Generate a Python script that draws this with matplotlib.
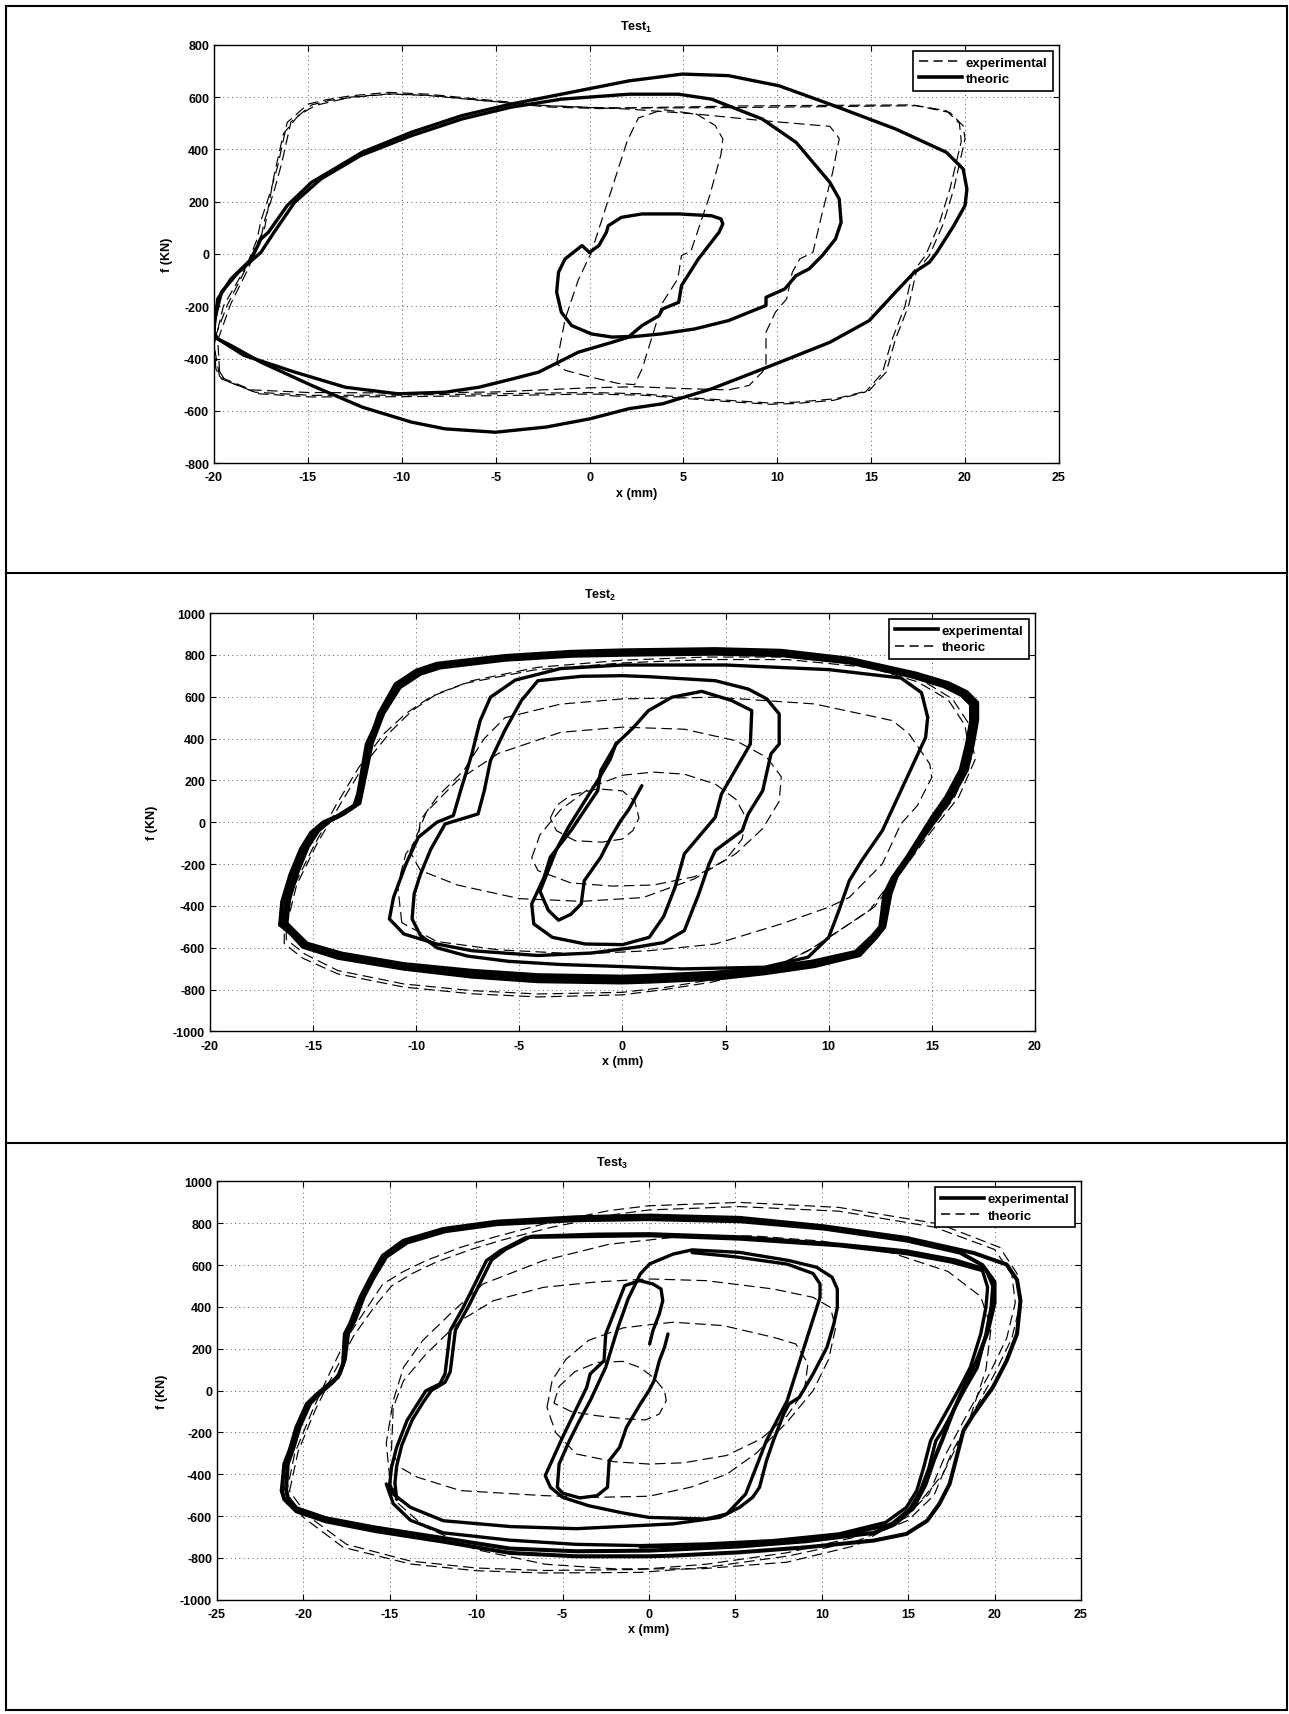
import numpy as np
import matplotlib
matplotlib.use('Agg')
import matplotlib.pyplot as plt
from matplotlib.lines import Line2D
from matplotlib.patches import Rectangle

plt.rcParams['font.family'] = ['Liberation Sans', 'DejaVu Sans']
plt.rcParams['font.weight'] = 'bold'
plt.rcParams['axes.unicode_minus'] = False
plt.rcParams['mathtext.fontset'] = 'custom'
plt.rcParams['mathtext.rm'] = 'Liberation Sans:bold'
plt.rcParams['mathtext.it'] = 'Liberation Sans:bold'
plt.rcParams['mathtext.bf'] = 'Liberation Sans:bold'

# ---------------- Test 1 : (x mm, f kN) ----------------
t1_exp_outer = [(-19.9, -440), (-20.0, -330), (-19.3, -197), (-18.4, -70), (-17.7, 57), (-17.5, 127),
                (-17.0, 236), (-16.6, 338), (-16.1, 503), (-15.0, 573), (-14.0, 590), (-12.7, 605),
                (-10.7, 618), (-8.6, 611), (-5.9, 592), (-4.1, 580), (-2.4, 567), (0.3, 560), (2.8, 558),
                (8.0, 560), (12.0, 563), (17.4, 567), (19.2, 541), (19.9, 490), (20.0, 440), (19.4, 248),
                (18.8, 108), (18.1, -6), (17.4, -70), (17.0, -197), (16.3, -325), (15.8, -452),
                (14.9, -522), (13.1, -554), (11.0, -567), (9.6, -570), (7.4, -560), (4.9, -548),
                (2.8, -535), (0.0, -530), (-5.0, -535), (-10.0, -540), (-14.8, -541), (-17.8, -529),
                (-19.6, -478), (-19.9, -440)]
t1_exp_outer_b = [(-19.7, -450), (-19.8, -330), (-19.1, -190), (-18.2, -60), (-17.5, 60), (-17.3, 130),
                  (-16.8, 240), (-16.4, 345), (-15.9, 505), (-14.8, 570), (-13.8, 588), (-12.5, 600),
                  (-10.5, 612), (-8.4, 606), (-5.7, 587), (-3.9, 574), (-2.2, 562), (0.5, 556), (3.0, 560),
                  (8.0, 566), (12.0, 568), (17.2, 570), (19.0, 548), (19.7, 500), (19.8, 430), (19.2, 250),
                  (18.6, 110), (17.9, -5), (17.2, -72), (16.8, -200), (16.1, -330), (15.6, -455),
                  (14.7, -528), (13.0, -560), (11.0, -572), (9.6, -575), (7.4, -565), (4.9, -552),
                  (2.8, -540), (0.0, -536), (-5.0, -542), (-10.0, -546), (-14.8, -547), (-17.6, -535),
                  (-19.4, -484), (-19.7, -450)]
t1_exp_mid = [(-19.7, -470), (-20.0, -350), (-19.5, -200), (-18.3, -50), (-17.3, 100), (-16.8, 300),
              (-16.3, 460), (-15.5, 530), (-14.6, 568), (-12.7, 600), (-10.7, 612), (-8.6, 606),
              (-5.9, 588), (-3.0, 570), (0.0, 560), (2.1, 554), (5.7, 535), (9.2, 510), (12.8, 488),
              (13.2, 452), (13.3, 440), (12.95, 312), (12.4, 159), (11.9, 6), (11.2, -19), (10.8, -70),
              (10.5, -172), (9.9, -223), (9.4, -299), (9.4, -427), (9.2, -452), (8.5, -503), (7.4, -520),
              (5.0, -515), (2.5, -508), (0.0, -512), (-5.0, -528), (-10.0, -532), (-15.0, -530),
              (-18.0, -520), (-19.7, -470)]
t1_exp_inner = [(-1.75, -420), (-1.3, -250), (-0.6, -100), (0.1, 6), (0.9, 185), (2.0, 430), (2.6, 520),
                (3.9, 552), (5.7, 535), (6.7, 491), (7.1, 440), (7.0, 380), (6.4, 223), (5.4, 10),
                (4.9, -6), (4.7, -96), (3.9, -185), (3.3, -325), (2.8, -440), (2.4, -500), (1.5, -495),
                (0.0, -470), (-1.3, -445), (-1.75, -420)]

t1_theo_outer = [(-20.0, -287), (-19.8, -172), (-19.1, -96), (-18.0, -19), (-17.5, 57), (-17.1, 83),
                 (-16.1, 185), (-14.8, 274), (-13.9, 312), (-12.1, 389), (-9.5, 465), (-6.8, 529),
                 (-4.2, 573), (-1.5, 611), (2.1, 662), (4.95, 688), (7.4, 682), (10.1, 643), (12.8, 573),
                 (16.3, 478), (19.0, 389), (19.9, 325), (20.1, 248), (20.0, 185), (19.4, 108), (18.5, 6),
                 (18.1, -32), (17.3, -70), (16.3, -146), (14.9, -255), (12.8, -338), (10.6, -401),
                 (8.8, -452), (6.5, -516), (3.9, -573), (2.1, -592), (0.0, -631), (-2.3, -662),
                 (-5.0, -682), (-7.7, -669), (-9.5, -643), (-12.1, -586), (-14.8, -503), (-17.5, -414),
                 (-19.1, -350), (-20.0, -318), (-20.0, -287)]
t1_theo_mid = [(-20.0, -261), (-19.6, -146), (-18.7, -70), (-17.5, 6), (-16.8, 83), (-15.7, 198),
               (-14.3, 287), (-12.2, 376), (-9.5, 452), (-6.8, 516), (-4.2, 561), (-1.5, 592), (2.1, 611),
               (4.75, 611), (6.5, 592), (9.2, 516), (11.0, 427), (12.8, 274), (13.3, 210), (13.4, 121),
               (13.1, 57), (12.4, -6), (11.7, -57), (11.0, -83), (10.4, -134), (9.4, -166), (9.4, -197),
               (7.4, -255), (5.6, -287), (3.8, -306), (2.1, -318), (1.2, -338), (-0.6, -376),
               (-2.7, -452), (-4.1, -478), (-5.9, -510), (-7.7, -529), (-10.2, -535), (-13.0, -510),
               (-15.7, -452), (-18.4, -388), (-19.8, -325), (-20.0, -300), (-20.0, -261)]
t1_theo_inner = [(0.0, 6), (-0.4, 32), (-1.3, -19), (-1.65, -70), (-1.75, -146), (-1.5, -223),
                 (-0.95, -274), (0.1, -306), (1.2, -318), (2.1, -316), (2.8, -274), (3.7, -236),
                 (3.9, -210), (4.75, -185), (4.9, -121), (5.8, -19), (6.9, 83), (7.1, 115), (7.0, 134),
                 (6.5, 146), (4.75, 153), (2.8, 153), (1.7, 140), (1.0, 108), (0.9, 83), (0.5, 32),
                 (0.0, 6)]

# ---------------- Test 2 ----------------
t2_exp_band_a = [(-16.6, -490), (-16.5, -380), (-16.1, -250), (-15.6, -130), (-15.1, -50), (-14.5, 0),
                 (-13.8, 30), (-13.0, 80), (-12.6, 200), (-12.3, 370), (-11.8, 520), (-11.0, 660),
                 (-10.0, 725), (-9.0, 758), (-5.7, 795), (-2.5, 815), (0.0, 822), (4.5, 828), (7.7, 820),
                 (11.0, 782), (14.2, 712), (15.8, 665), (16.7, 622), (17.2, 572), (17.2, 490),
                 (17.0, 378), (16.7, 250), (16.0, 125), (15.3, 30), (14.6, -68), (14.0, -160),
                 (13.3, -258), (13.0, -340), (12.7, -500), (12.3, -550), (11.5, -635), (9.3, -688),
                 (6.9, -722), (4.5, -748), (1.3, -762), (0.0, -766), (-4.1, -760), (-7.3, -738),
                 (-10.6, -700), (-13.8, -648), (-15.5, -595), (-16.1, -530), (-16.6, -490)]
t2_exp_band_b = [(-16.3, -482), (-16.15, -364), (-15.75, -236), (-15.25, -116), (-14.75, -40),
                 (-14.2, 6), (-13.5, 42), (-12.75, 92), (-12.15, 378), (-11.6, 520), (-10.8, 645),
                 (-9.8, 710), (-8.85, 740), (-5.7, 777), (-2.5, 796), (0.0, 801), (4.5, 806),
                 (7.7, 799), (11.0, 764), (14.05, 697), (15.6, 650), (16.45, 608), (16.9, 563),
                 (16.9, 482), (16.7, 372), (16.4, 250), (15.7, 121), (15.0, 22), (14.4, -73),
                 (13.8, -167), (13.1, -265), (12.7, -344), (12.5, -500), (12.1, -546), (11.3, -620),
                 (9.2, -666), (6.9, -697), (4.5, -719), (1.3, -734), (0.0, -738), (-4.1, -731),
                 (-7.3, -710), (-10.6, -678), (-13.6, -628), (-15.3, -580), (-15.9, -522),
                 (-16.3, -482)]
t2_exp_band_c = [(-16.45, -486), (-16.3, -372), (-15.9, -243), (-15.4, -123), (-14.9, -45),
                 (-14.35, 3), (-13.65, 36), (-12.9, 86), (-12.4, 374), (-11.7, 520), (-10.9, 652),
                 (-9.9, 717), (-8.9, 749), (-5.7, 786), (-2.5, 805), (0.0, 811), (4.5, 817),
                 (7.7, 809), (11.0, 773), (14.1, 704), (15.7, 657), (16.6, 615), (17.05, 568),
                 (17.05, 486), (16.85, 375), (16.55, 250), (15.85, 123), (15.15, 26), (14.5, -70),
                 (13.9, -163), (13.2, -262), (12.85, -342), (12.6, -500), (12.2, -548),
                 (11.4, -628), (9.25, -677), (6.9, -710), (4.5, -733), (1.3, -748), (0.0, -752),
                 (-4.1, -745), (-7.3, -724), (-10.6, -689), (-13.7, -638), (-15.4, -588),
                 (-16.0, -526), (-16.45, -486)]
t2_exp_main = [(14.8, 502), (14.7, 406), (14.2, 300), (13.5, 151), (12.6, -40), (11.6, -183),
               (11.0, -279), (10.5, -420), (10.0, -550), (9.0, -645), (6.9, -693), (2.9, -701),
               (0.0, -690), (-3.0, -680), (-5.5, -665), (-7.5, -640), (-9.0, -600), (-9.8, -540),
               (-10.2, -462), (-10.1, -343), (-9.8, -250), (-9.3, -130), (-8.6, -8), (-7.0, 40),
               (-6.7, 151), (-6.4, 295), (-5.7, 440), (-4.9, 582), (-4.1, 677), (-2.0, 698), (0.0, 701),
               (1.3, 696), (4.5, 677), (6.1, 637), (7.0, 590), (7.6, 518), (7.6, 374), (7.2, 327),
               (6.8, 151), (6.1, 40), (5.8, -40), (4.5, -135), (4.2, -199), (3.7, -343), (3.0, -518),
               (2.0, -575), (0.6, -598), (-1.5, -625), (-4.1, -637), (-7.3, -614), (-9.0, -582),
               (-10.6, -534), (-11.3, -462), (-11.1, -359), (-10.5, -200), (-9.9, -72), (-9.0, 0),
               (-8.2, 32), (-7.8, 167), (-7.3, 327), (-6.9, 486), (-6.4, 598), (-5.2, 680), (-3.0, 735),
               (0.0, 752), (5.0, 752), (10.0, 730), (13.5, 690), (14.5, 620), (14.8, 502)]
t2_exp_m3 = [(-0.3, 375), (-1.05, 247), (-1.2, 151), (-1.85, 56), (-2.5, -40), (-3.5, -167),
             (-3.8, -263), (-4.4, -390), (-4.3, -486), (-3.4, -550), (-1.8, -582), (0.0, -585),
             (1.3, -550), (2.0, -450), (2.55, -311), (3.0, -151), (4.5, 24), (4.8, 135), (6.2, 374),
             (6.27, 534), (5.3, 582), (3.85, 626), (2.4, 598), (1.26, 534), (0.5, 450), (-0.3, 375)]
t2_exp_small = [(-0.3, 380), (-0.6, 300), (-1.2, 200), (-1.9, 90), (-2.6, -20), (-3.2, -130),
                (-3.6, -230), (-4.0, -330), (-3.6, -420), (-3.1, -468), (-2.5, -440), (-2.0, -390),
                (-1.85, -279), (-1.05, -167), (-0.56, -72), (-0.08, 8), (0.3, 60), (0.94, 175)]

t2_theo_1 = [(-16.3, -500), (-15.8, -300), (-14.8, -100), (-13.6, 100), (-12.5, 279), (-11.2, 438),
             (-10.2, 534), (-9.0, 614), (-7.3, 677), (-4.1, 741), (0.0, 775), (4.0, 790), (8.0, 790),
             (12.0, 750), (14.5, 680), (16.0, 590), (16.8, 470), (17.1, 300), (16.3, 120), (15.0, -40),
             (13.8, -200), (12.2, -406), (11.0, -486), (9.3, -598), (7.7, -677), (4.5, -750),
             (2.1, -789), (0.0, -813), (-4.1, -821), (-7.3, -805), (-10.6, -773), (-13.8, -709),
             (-15.4, -630), (-16.3, -560), (-16.3, -500)]
t2_theo_1b = [(-16.4, -520), (-16.0, -320), (-15.0, -120), (-13.9, 80), (-12.8, 260), (-11.6, 420),
              (-10.5, 520), (-9.3, 600), (-7.6, 665), (-4.3, 728), (0.0, 762), (4.0, 778), (8.0, 778),
              (12.0, 740), (14.3, 672), (15.8, 585), (16.6, 465), (16.9, 300), (16.1, 120), (14.8, -50),
              (13.5, -215), (12.0, -420), (10.7, -505), (9.0, -615), (7.4, -690), (4.3, -765),
              (2.0, -800), (0.0, -825), (-4.1, -835), (-7.3, -820), (-10.6, -788), (-13.8, -725),
              (-15.5, -650), (-16.4, -580), (-16.4, -520)]
t2_theo_2 = [(-10.7, -480), (-10.9, -300), (-10.5, -150), (-9.9, -72), (-9.8, 8), (-9.0, 120),
             (-7.7, 247), (-6.7, 400), (-5.7, 500), (-3.0, 565), (0.0, 590), (4.5, 598), (9.3, 566),
             (13.1, 486), (13.9, 422), (14.9, 279), (15.0, 215), (14.3, 80), (13.5, -8), (12.6, -199),
             (11.0, -359), (10.0, -406), (7.7, -486), (4.5, -582), (1.3, -614), (-2.0, -630),
             (-6.0, -610), (-9.0, -570), (-10.7, -480)]
t2_theo_3 = [(-10.3, -140), (-9.5, 50), (-8.0, 200), (-6.0, 330), (-3.0, 430), (0.0, 455), (3.0, 445),
             (5.5, 390), (7.0, 310), (7.7, 218), (7.6, 100), (6.8, -30), (5.5, -150), (3.5, -270),
             (1.0, -360), (-2.0, -378), (-5.0, -365), (-8.0, -300), (-9.8, -230), (-10.3, -140)]
t2_theo_4 = [(-4.4, -170), (-4.0, -60), (-3.0, 60), (-1.5, 170), (0.0, 225), (1.5, 240), (3.0, 230),
             (4.5, 183), (5.5, 110), (6.0, 20), (5.8, -80), (5.0, -180), (3.5, -260), (1.5, -300),
             (-0.5, -305), (-2.5, -290), (-4.1, -231), (-4.4, -170)]
t2_theo_5 = [(-3.5, 20), (-3.2, 80), (-2.5, 130), (-1.2, 160), (0.0, 150), (0.6, 100), (0.8, 20),
             (0.5, -40), (0.0, -80), (-1.0, -95), (-2.3, -88), (-3.2, -40), (-3.5, 20)]

# ---------------- Test 3 ----------------
t3_exp_band_a = [(-21.25, -478), (-21.1, -351), (-20.8, -287), (-20.4, -175), (-19.8, -64),
                 (-19.2, -16), (-18.5, 32), (-18.0, 64), (-17.7, 127), (-17.6, 271), (-17.3, 319),
                 (-16.7, 446), (-16.1, 542), (-15.4, 645), (-14.2, 717), (-11.9, 773), (-8.8, 808),
                 (-4.2, 829), (0.0, 837), (5.25, 826), (10.1, 786), (14.9, 730), (18.8, 658),
                 (20.7, 603), (21.3, 530), (21.5, 430), (21.3, 271), (20.7, 143), (19.9, 16),
                 (18.8, -112), (18.2, -191), (17.8, -319), (17.4, -446), (16.8, -542), (16.1, -622),
                 (14.9, -685), (13.0, -717), (9.1, -749), (5.25, -773), (1.4, -789), (0.0, -792),
                 (-4.2, -792), (-8.05, -776), (-11.9, -722), (-15.8, -672), (-18.7, -625),
                 (-20.4, -577), (-21.1, -520), (-21.25, -478)]
t3_exp_band_b = [(-21.0, -470), (-20.9, -350), (-20.6, -280), (-20.2, -170), (-19.6, -60), (-19.0, -10),
                 (-18.3, 40), (-17.9, 80), (-17.6, 150), (-17.4, 280), (-17.0, 340), (-16.5, 450),
                 (-15.9, 545), (-15.2, 640), (-14.0, 708), (-11.8, 762), (-8.8, 796), (-4.2, 815),
                 (0.0, 820), (5.25, 810), (10.1, 775), (14.9, 718), (18.0, 660), (19.3, 600),
                 (20.0, 520), (20.0, 420), (19.6, 280), (19.0, 150), (18.3, 30), (17.6, -100),
                 (17.0, -230), (16.5, -330), (16.0, -450), (15.3, -560), (14.2, -640), (13.0, -680),
                 (9.1, -720), (5.25, -745), (1.4, -760), (0.0, -765), (-4.2, -768), (-8.05, -755),
                 (-11.9, -705), (-15.8, -655), (-18.7, -610), (-20.4, -562), (-20.9, -510),
                 (-21.0, -470)]
t3_exp_main = [(1.1, 271), (0.9, 207), (0.6, 143), (0.3, 48), (0.0, 0), (-0.5, -64), (-1.3, -175),
               (-1.7, -271), (-2.3, -335), (-2.4, -462), (-3.0, -502), (-4.0, -513), (-5.0, -490),
               (-5.3, -462), (-5.2, -351), (-4.6, -239), (-4.0, -140), (-3.4, -48), (-2.5, 112),
               (-1.8, 300), (-1.2, 440), (-0.5, 558), (0.04, 606), (1.4, 653), (2.5, 673), (5.25, 661),
               (8.1, 622), (9.7, 590), (10.6, 542), (10.9, 486), (10.9, 398), (10.7, 319), (10.3, 207),
               (9.5, 80), (8.7, -32), (8.1, -64), (7.8, -112), (7.2, -239), (6.8, -335), (6.4, -462),
               (6.0, -510), (5.25, -558), (4.1, -606), (1.4, -637), (-0.5, -645), (-4.2, -660),
               (-8.0, -650), (-11.9, -622), (-13.8, -558), (-14.8, -494), (-15.0, -446), (-14.9, -367),
               (-14.6, -271), (-14.0, -143), (-13.4, -64), (-12.9, 0), (-12.1, 32), (-11.8, 80),
               (-11.5, 287), (-10.75, 398), (-9.4, 622), (-8.6, 669), (-7.1, 733), (0.0, 741),
               (5.25, 725), (11.0, 693), (14.9, 655), (17.5, 615), (19.3, 574), (19.6, 494),
               (19.5, 398), (19.2, 271), (18.6, 112), (18.0, 16), (16.6, -191), (16.3, -239),
               (15.9, -367), (15.5, -478), (14.9, -558), (13.7, -630), (11.0, -685), (7.2, -717),
               (3.3, -733), (-0.5, -741), (-4.2, -735), (-8.05, -715), (-11.9, -680), (-13.8, -620),
               (-14.8, -540), (-15.2, -446)]
t3_exp_small = [(0.04, 223), (0.23, 287), (0.6, 367), (0.8, 430), (0.7, 486), (0.23, 510), (-0.54, 526),
                (-1.4, 502), (-2.5, 271), (-2.6, 143), (-3.4, 80), (-3.6, 16), (-5.0, -223),
                (-5.7, -351), (-6.0, -406), (-5.7, -462), (-5.0, -510), (-3.5, -550), (-1.5, -585),
                (0.0, -606), (3.3, -614), (4.5, -590), (5.6, -494), (6.2, -367), (6.8, -239),
                (8.0, -48), (9.1, 239), (9.9, 446), (9.9, 510), (9.5, 560), (8.0, 605), (5.0, 640),
                (2.5, 660)]
t3_exp_loop2 = [(-14.6, -520), (-14.7, -440), (-14.6, -360), (-14.3, -260), (-13.7, -140), (-13.1, -60),
                (-12.6, 0), (-11.8, 40), (-11.5, 90), (-11.2, 290), (-10.4, 410), (-9.1, 625),
                (-8.3, 675), (-6.8, 738), (-3.0, 748), (0.0, 750), (5.25, 735), (11.0, 700), (14.9, 668),
                (17.7, 625), (19.5, 580), (19.9, 500), (19.8, 400), (19.5, 270), (19.0, 110),
                (18.3, 10), (17.0, -190), (16.6, -240), (16.2, -370), (15.7, -480), (15.1, -565),
                (14.0, -640), (11.0, -695), (7.2, -725), (3.3, -740), (-0.5, -748)]

t3_theo_1 = [(-21.0, -500), (-20.5, -300), (-19.5, -100), (-18.5, 80), (-17.5, 250), (-16.3, 398),
             (-15.4, 510), (-14.2, 570), (-12.9, 622), (-10.9, 685), (-9.0, 733), (-6.1, 797),
             (-2.3, 861), (0.0, 884), (5.25, 900), (11.0, 876), (16.8, 797), (20.3, 685), (21.3, 560),
             (21.5, 420), (21.0, 250), (20.0, 80), (18.8, -100), (17.5, -300), (16.5, -500),
             (15.0, -620), (12.0, -720), (8.1, -790), (3.3, -845), (-0.5, -869), (-6.1, -872),
             (-10.0, -861), (-13.8, -829), (-17.7, -749), (-20.0, -606), (-21.0, -500)]
t3_theo_1b = [(-20.8, -480), (-20.3, -290), (-19.3, -90), (-18.2, 90), (-17.1, 260), (-15.9, 400),
              (-14.9, 500), (-13.7, 560), (-12.3, 615), (-10.3, 675), (-8.5, 720), (-5.7, 780),
              (-2.0, 842), (0.0, 864), (5.25, 880), (11.0, 858), (16.5, 782), (20.0, 675), (21.0, 555),
              (21.2, 420), (20.7, 250), (19.7, 80), (18.5, -100), (17.2, -300), (16.2, -495),
              (14.7, -610), (11.7, -705), (8.0, -775), (3.3, -830), (-0.5, -855), (-6.1, -860),
              (-10.0, -848), (-13.8, -815), (-17.5, -735), (-19.8, -595), (-20.8, -480)]
t3_theo_2 = [(-15.0, -420), (-15.2, -250), (-14.8, -48), (-14.2, 112), (-13.1, 239), (-11.5, 367),
             (-9.6, 510), (-6.1, 622), (-2.3, 700), (2.0, 738), (6.0, 740), (10.0, 715), (14.0, 660),
             (17.3, 570), (19.2, 450), (19.8, 300), (19.5, 100), (18.5, -150), (17.0, -400),
             (15.0, -600), (12.0, -740), (8.0, -820), (3.0, -852), (-2.0, -852), (-6.0, -830),
             (-10.0, -760), (-13.0, -650), (-14.5, -540), (-15.0, -420)]
t3_theo_3 = [(-14.9, -287), (-14.8, -80), (-14.2, 48), (-12.9, 175), (-10.9, 335), (-9.0, 430),
             (-6.1, 494), (-3.0, 520), (0.0, 534), (3.3, 526), (7.2, 486), (9.5, 446), (10.5, 398),
             (10.8, 300), (10.4, 150), (9.5, 0), (8.0, -150), (6.2, -300), (4.5, -400), (2.4, -462),
             (0.0, -505), (-3.0, -510), (-6.1, -502), (-10.9, -478), (-13.4, -414), (-14.4, -367),
             (-14.9, -287)]
t3_theo_4 = [(-5.9, -80), (-5.6, 50), (-4.8, 150), (-3.5, 240), (-1.5, 300), (0.0, 315), (1.4, 327),
             (4.3, 311), (7.2, 255), (8.5, 223), (9.2, 130), (9.0, 0), (8.0, -120), (6.5, -230),
             (4.5, -310), (2.0, -345), (0.0, -351), (-2.0, -340), (-4.2, -303), (-5.4, -200),
             (-5.9, -80)]
t3_theo_5 = [(-5.5, -60), (-5.2, 20), (-4.3, 90), (-3.0, 135), (-1.5, 140), (-0.5, 110), (0.3, 60),
             (0.9, 0), (1.0, -48), (0.6, -112), (-0.2, -140), (-1.3, -135), (-3.0, -120), (-4.5, -100),
             (-5.5, -60)]

TH = 2.4                 # thick solid width
TB = 2.9                 # band traces width
TN = 0.85                # thin dashed width
DASH = (0, (9, 4.5))


def solid(ax, pts, lw=TH):
    a = np.array(pts)
    ax.plot(a[:, 0], a[:, 1], color='k', lw=lw, solid_joinstyle='round', solid_capstyle='round')


def dashed(ax, pts):
    a = np.array(pts)
    ax.plot(a[:, 0], a[:, 1], color='k', lw=TN, ls=DASH)


def style(ax, xlim, ylim, xstep, title, title_x, ylab_x):
    ax.set_xlim(*xlim)
    ax.set_ylim(*ylim)
    ax.set_xticks(np.arange(xlim[0], xlim[1] + 1, xstep))
    ax.set_yticks(np.arange(ylim[0], ylim[1] + 1, 200))
    ax.grid(True, color='0.35', lw=0.7, ls=(0, (1, 3.5)))
    ax.tick_params(direction='in', top=True, right=True, length=4, width=0.8, labelsize=9)
    ax.tick_params(axis='x', pad=6)
    ax.tick_params(axis='y', pad=3.5)
    for s in ax.spines.values():
        s.set_linewidth(1.0)
    ax.set_xlabel('x (mm)', fontsize=9, fontweight='bold')
    ax.set_ylabel('f (KN)', fontsize=9, fontweight='bold')
    ax.xaxis.set_label_coords(0.5, -0.056)
    ax.yaxis.set_label_coords(ylab_x, 0.5)
    ax.set_title(title, fontsize=9, fontweight='bold', x=title_x, pad=11)


def legend(ax, order):
    h_dash = Line2D([], [], color='k', lw=1.1, ls=(0, (6, 3.5)))
    h_solid = Line2D([], [], color='k', lw=2.6)
    hs = [h_dash, h_solid] if order == 'dash_first' else [h_solid, h_dash]
    leg = ax.legend(hs, ['experimental', 'theoric'], loc='upper right', fontsize=9.5,
                    handlelength=3.3, handletextpad=0.25, borderpad=0.42, labelspacing=0.32,
                    borderaxespad=0.45, fancybox=False, framealpha=1, edgecolor='k')
    leg.get_frame().set_linewidth(1.2)


fig = plt.figure(figsize=(12.89, 17.15), dpi=100)

# panel frames
fig.add_artist(Rectangle((0.0047, 0.0023), 0.9937, 0.9936, transform=fig.transFigure,
                         fill=False, lw=1.5, ec='k'))
for yy in (0.6653, 0.3332):
    fig.add_artist(Line2D([0.0047, 0.9984], [yy, yy], transform=fig.transFigure, lw=1.5, color='k'))

# Test 1
ax1 = fig.add_axes([0.1660, 0.7294, 0.6555, 0.2439])
for c in (t1_exp_outer, t1_exp_outer_b, t1_exp_mid, t1_exp_inner):
    dashed(ax1, c)
for c in (t1_theo_outer, t1_theo_mid, t1_theo_inner):
    solid(ax1, c)
style(ax1, (-20, 25), (-800, 800), 5, r'Test$_{1}$', 0.5, -0.0485)
legend(ax1, 'dash_first')

# Test 2
ax2 = fig.add_axes([0.1629, 0.3980, 0.6400, 0.2439])
for c in (t2_theo_1, t2_theo_1b, t2_theo_2, t2_theo_3, t2_theo_4, t2_theo_5):
    dashed(ax2, c)
for c in (t2_exp_band_a, t2_exp_band_b, t2_exp_band_c):
    solid(ax2, c, TB)
for c in (t2_exp_main, t2_exp_m3, t2_exp_small):
    solid(ax2, c)
style(ax2, (-20, 20), (-1000, 1000), 5, r'Test$_{2}$', 0.473, -0.063)
legend(ax2, 'solid_first')

# Test 3
ax3 = fig.add_axes([0.1683, 0.0666, 0.6703, 0.2439])
for c in (t3_theo_1, t3_theo_1b, t3_theo_2, t3_theo_3, t3_theo_4, t3_theo_5):
    dashed(ax3, c)
for c in (t3_exp_band_a, t3_exp_band_b):
    solid(ax3, c, TB)
for c in (t3_exp_main, t3_exp_small, t3_exp_loop2):
    solid(ax3, c)
style(ax3, (-25, 25), (-1000, 1000), 5, r'Test$_{3}$', 0.458, -0.0567)
legend(ax3, 'solid_first')

fig.savefig('out.png', dpi=100)
